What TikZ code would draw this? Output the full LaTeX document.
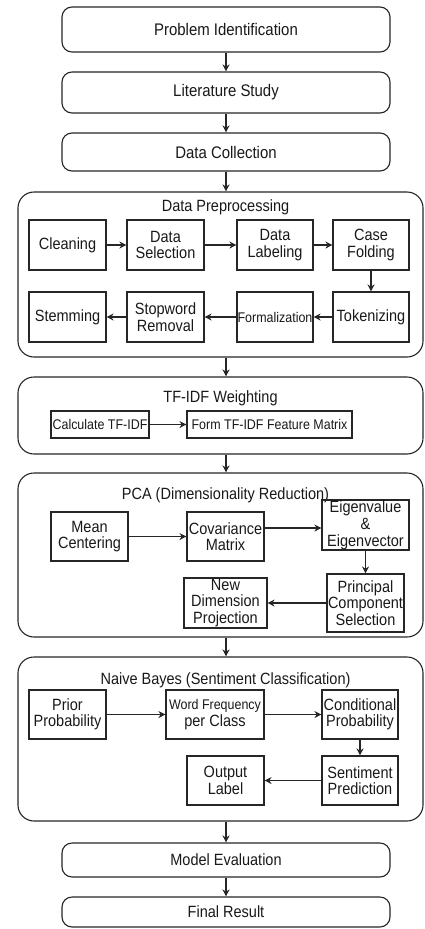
\documentclass[tikz,border=0pt]{standalone}
\usepackage{fontspec}
\setmainfont{Liberation Sans}[FakeStretch=0.89]
\usetikzlibrary{arrows.meta}
\begin{document}
\begin{tikzpicture}[x=1pt,y=-1pt,
  every node/.style={font=\fontsize{16.3}{16.5}\selectfont, text=black!90, inner sep=0pt, align=center},
  stage/.style={draw=black!85, line width=1.1pt, rounded corners=10pt, minimum width=328pt, font=\fontsize{16.8}{17}\selectfont},
  group/.style={draw=black!85, line width=1.1pt, rounded corners=16pt, minimum width=405pt},
  box/.style={draw=black!85, line width=1.1pt},
  small/.style={font=\fontsize{14}{15}\selectfont},
  arr/.style={-{Stealth[length=7pt,width=7pt]}, line width=1.1pt, draw=black!85},
]
\fill[white] (0,0) rectangle (425,929);
\useasboundingbox (0,0) rectangle (425,929);

% main stages
\node[stage, minimum height=45pt] (pi) at (226,29.5) {Problem Identification};
\node[stage, minimum height=41pt] (ls) at (226,92.5) {Literature Study};
\node[stage, minimum height=38pt] (dc) at (226,152) {Data Collection};
\node[stage, minimum height=34pt, font=\fontsize{16.3}{17}\selectfont] (me) at (226,860) {Model Evaluation};
\node[stage, minimum height=30pt, font=\fontsize{16.3}{17}\selectfont] (fr) at (226,912) {Final Result};

% containers
\node[group, minimum height=165pt] (dp) at (220.5,274.5) {};
\node[group, minimum height=77pt] (tf) at (220.5,415.5) {};
\node[group, minimum height=164pt] (pca) at (220.5,555) {};
\node[group, minimum height=164pt] (nb) at (220.5,739) {};

% titles
\node (dpt) at (225.5,207) {Data Preprocessing};
\node (tft) at (220.5,398) {TF-IDF Weighting};
\node (pcat) at (225.5,495) {PCA (Dimensionality Reduction)};
\node (nbt) at (225.5,680) {Naive Bayes (Sentiment Classification)};

% Data preprocessing boxes
\node[box, minimum width=77pt, minimum height=50pt] (cl) at (67.5,245) {Cleaning};
\node[box, minimum width=77pt, minimum height=50pt] (ds) at (165.5,245) {Data\\Selection};
\node[box, minimum width=76pt, minimum height=50pt] (dl) at (275,245) {Data\\Labeling};
\node[box, minimum width=76pt, minimum height=50pt] (cf) at (371,245) {Case\\Folding};
\node[box, minimum width=77pt, minimum height=50pt] (st) at (67.5,317) {Stemming};
\node[box, minimum width=77pt, minimum height=50pt] (sw) at (165.5,317) {Stopword\\Removal};
\node[box, small, minimum width=76pt, minimum height=50pt] (fo) at (275,317) {Formalization};
\node[box, minimum width=76pt, minimum height=50pt] (tk) at (371,317) {Tokenizing};

% TF-IDF boxes
\node[box, small, minimum width=98pt, minimum height=27pt] (ct) at (100,424.5) {Calculate TF-IDF};
\node[box, small, minimum width=165pt, minimum height=27pt] (fm) at (269.5,424.5) {Form TF-IDF Feature Matrix};

% PCA boxes
\node[box, minimum width=77pt, minimum height=49pt] (mc) at (89.5,536.5) {Mean\\Centering};
\node[box, minimum width=77pt, minimum height=49pt] (cov) at (225.5,536.5) {Covariance\\Matrix};
\node[box, minimum width=87pt, minimum height=50pt, font=\fontsize{16.3}{17}\selectfont] (eig) at (365.5,525) {Eigenvalue\\\&\\Eigenvector};
\node[box, minimum width=77pt, minimum height=58pt] (pcs) at (365.5,603) {Principal\\Component\\Selection};
\node[box, minimum width=83pt, minimum height=50pt] (ndp) at (225.5,603) {New\\Dimension\\Projection};

% Naive Bayes boxes
\node[box, minimum width=77pt, minimum height=49pt] (pp) at (67.5,714.5) {Prior\\Probability};
\node[box, minimum width=98pt, minimum height=49pt] (wf) at (215,714.5) {{\fontsize{14}{15}\selectfont Word Frequency}\\per Class};
\node[box, minimum width=76pt, minimum height=49pt] (cp) at (360,714.5) {Conditional\\Probability};
\node[box, minimum width=76pt, minimum height=49pt] (sp) at (360,780.5) {Sentiment\\Prediction};
\node[box, minimum width=77pt, minimum height=49pt] (ol) at (225.5,780.5) {Output\\Label};

% main flow arrows
\draw[arr] (pi.south) -- (ls.north);
\draw[arr] (ls.south) -- (dc.north);
\draw[arr] (dc.south) -- (dc.south |- dp.north);
\draw[arr] (dc.south |- dp.south) -- (dc.south |- tf.north);
\draw[arr] (dc.south |- tf.south) -- (dc.south |- pca.north);
\draw[arr] (dc.south |- pca.south) -- (dc.south |- nb.north);
\draw[arr] (dc.south |- nb.south) -- (me.north);
\draw[arr] (me.south) -- (fr.north);

% preprocessing arrows
\draw[arr] (cl) -- (ds);
\draw[arr] (ds) -- (dl);
\draw[arr] (dl) -- (cf);
\draw[arr] (cf) -- (tk);
\draw[arr] (tk) -- (fo);
\draw[arr] (fo) -- (sw);
\draw[arr] (sw) -- (st);

% TF-IDF arrow
\draw[arr] (ct) -- (fm);

% PCA arrows
\draw[arr] (mc) -- (cov);
\draw[arr] (cov.east |- 0,528) -- (eig.west |- 0,528);
\draw[arr] (eig) -- (pcs);
\draw[arr] (pcs) -- (ndp);

% Naive Bayes arrows
\draw[arr] (pp) -- (wf);
\draw[arr] (wf) -- (cp);
\draw[arr] (cp) -- (sp);
\draw[arr] (sp) -- (ol);
\end{tikzpicture}
\end{document}
